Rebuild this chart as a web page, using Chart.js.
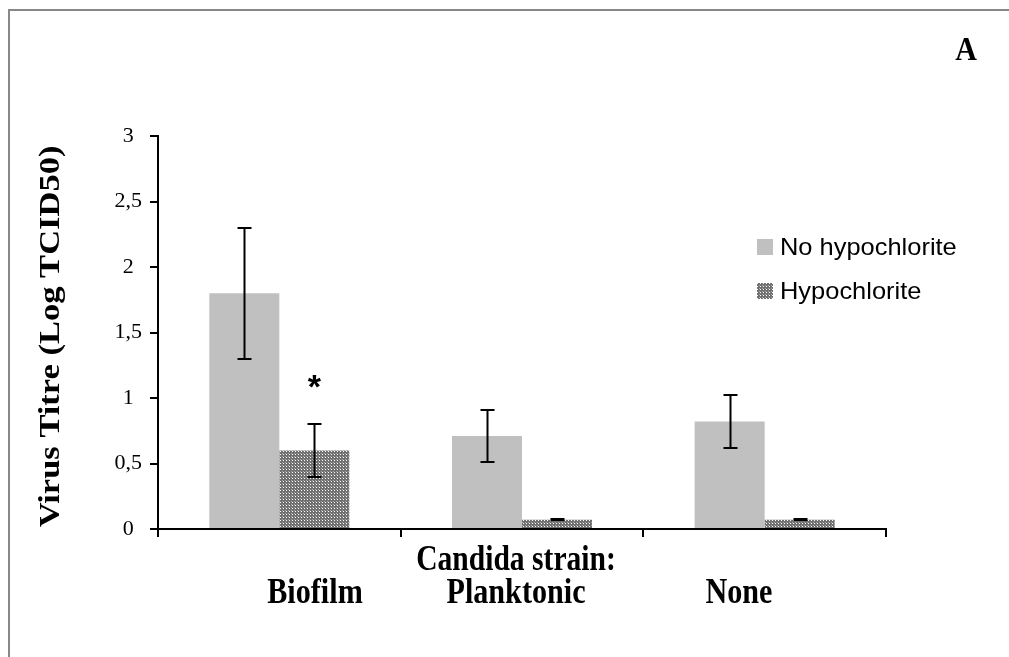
<!DOCTYPE html>
<html>
<head>
<meta charset="utf-8">
<script src="https://cdn.jsdelivr.net/npm/chart.js@4.4.1/dist/chart.umd.min.js"></script>
<style>
  html, body { margin: 0; padding: 0; background: #fff; }
  #wrap { width: 1009px; height: 657px; position: relative; }
</style>
</head>
<body>
<div id="wrap"><canvas id="titreChart" width="1009" height="657"></canvas></div>
<script>
// Virus titre per Candida strain, with and without hypochlorite
const strains = ["Biofilm", "Planktonic", "None"];
const noHypo = [1.8, 0.71, 0.82];
const noHypoErr = [0.5, 0.2, 0.2];
const hypo = [0.6, 0.07, 0.07];
const hypoErr = [0.2, 0.004, 0.004];
const significant = [true, false, false];
const yTicks = [0, 0.5, 1, 1.5, 2, 2.5, 3];

const canvas = document.getElementById("titreChart");
const ctx = canvas.getContext("2d");

// small dotted tile used for the hypochlorite bars
function dotPattern() {
  const c = document.createElement("canvas");
  c.width = 3; c.height = 3;
  const g = c.getContext("2d");
  g.fillStyle = "#707070";
  g.fillRect(0, 0, 3, 3);
  g.fillStyle = "#ffffff";
  g.fillRect(1, 1, 1, 1);
  g.fillStyle = "#a8a8a8";
  g.fillRect(0, 0, 1, 1);
  return ctx.createPattern(c, "repeat");
}
const hatch = dotPattern();
const lightGrey = "#c0c0c0";

// text drawn a bit taller than wide, like the rest of the figure
function stretchedText(c, text, x, y, sx, sy) {
  c.save();
  c.translate(x, y);
  c.scale(sx, sy);
  c.fillText(text, 0, 0);
  c.restore();
}

const errorBars = {
  id: "errorBars",
  afterDatasetsDraw(chart) {
    const y = chart.scales.y;
    const c = chart.ctx;
    const errs = [noHypoErr, hypoErr];
    c.save();
    c.strokeStyle = "#000";
    c.lineWidth = 2;
    chart.data.datasets.forEach((ds, di) => {
      chart.getDatasetMeta(di).data.forEach((bar, i) => {
        const v = ds.data[i], e = errs[di][i];
        const top = Math.round(y.getPixelForValue(v + e));
        const bot = Math.round(y.getPixelForValue(v - e));
        const x = Math.round(bar.x) + 0.5, cap = 7;
        c.beginPath();
        c.moveTo(x, top); c.lineTo(x, bot);
        c.moveTo(x - cap, top); c.lineTo(x + cap, top);
        c.moveTo(x - cap, bot); c.lineTo(x + cap, bot);
        c.stroke();
      });
    });
    // significance marks over the treated bars
    const meta = chart.getDatasetMeta(1);
    c.fillStyle = "#000";
    c.font = "bold 34px 'Liberation Sans'";
    c.textAlign = "center";
    c.textBaseline = "alphabetic";
    significant.forEach((s, i) => {
      if (!s) return;
      const yy = y.getPixelForValue(hypo[i] + hypoErr[i]);
      c.fillText("*", meta.data[i].x, yy - 26);
    });
    c.restore();
  }
};

const decorations = {
  id: "decorations",
  beforeDraw(chart) {
    const c = chart.ctx;
    c.save();
    c.fillStyle = "#fff";
    c.fillRect(0, 0, chart.width, chart.height);
    // outer frame (top and left edges)
    c.strokeStyle = "#888";
    c.lineWidth = 2;
    c.beginPath();
    c.moveTo(9, chart.height);
    c.lineTo(9, 10);
    c.lineTo(chart.width, 10);
    c.stroke();
    c.restore();
  },
  afterDraw(chart) {
    const c = chart.ctx;
    const area = chart.chartArea;
    c.save();
    c.fillStyle = "#000";
    c.textBaseline = "alphabetic";
    c.textAlign = "center";

    // panel letter
    c.font = "bold 30px 'Liberation Serif'";
    stretchedText(c, "A", 966, 60, 1, 1.15);

    // y axis title, rotated
    c.font = "bold 30px 'Liberation Serif'";
    c.save();
    c.translate(59, (area.top + area.bottom) / 2 + 4);
    c.rotate(-Math.PI / 2);
    c.scale(1.15, 1);
    c.fillText("Virus Titre (Log TCID50)", 0, 0);
    c.restore();

    // category labels under the axis
    c.font = "bold 29px 'Liberation Serif'";
    stretchedText(c, "Candida strain:", 516, 570, 1.02, 1.2);
    const labelX = [315, 516, 739];
    strains.forEach((s, i) => stretchedText(c, s, labelX[i], 603, 1.04, 1.2));

    // legend
    const items = [
      { text: chart.data.datasets[0].label, fill: lightGrey },
      { text: chart.data.datasets[1].label, fill: hatch }
    ];
    c.font = "24px 'Liberation Sans'";
    c.textAlign = "left";
    c.textBaseline = "middle";
    items.forEach((it, i) => {
      const yy = 247 + i * 44;
      c.fillStyle = it.fill;
      c.fillRect(757, yy - 8, 16, 16);
      c.fillStyle = "#000";
      stretchedText(c, it.text, 780, yy + 1, 1.06, 1);
    });
    c.restore();
  }
};

new Chart(ctx, {
  type: "bar",
  data: {
    labels: strains,
    datasets: [
      { label: "No hypochlorite", data: noHypo, backgroundColor: lightGrey, borderWidth: 0 },
      { label: "Hypochlorite", data: hypo, backgroundColor: hatch, borderWidth: 0 }
    ]
  },
  options: {
    responsive: false,
    animation: false,
    devicePixelRatio: 1,
    layout: { padding: { left: 32, top: 136, right: 123, bottom: 0 } },
    datasets: { bar: { categoryPercentage: 0.577, barPercentage: 1 } },
    plugins: { legend: { display: false }, tooltip: { enabled: false } },
    scales: {
      x: {
        afterFit: s => { s.height = 128; },
        border: { display: true, color: "#000", width: 2 },
        grid: { offset: true, drawOnChartArea: false, color: "#000", lineWidth: 2, tickLength: 8 },
        ticks: { display: false }
      },
      y: {
        min: 0,
        max: 3,
        afterFit: s => { s.width = 126; },
        afterBuildTicks: s => { s.ticks = yTicks.map(v => ({ value: v })); },
        border: { display: true, color: "#000", width: 2 },
        grid: { drawOnChartArea: false, color: "#000", lineWidth: 2, tickLength: 8 },
        ticks: {
          color: "#000",
          padding: 8,
          crossAlign: "center",
          font: { family: "'Liberation Serif'", size: 22 },
          callback: v => String(v).replace(".", ",")
        }
      }
    }
  },
  plugins: [decorations, errorBars]
});
</script>
</body>
</html>
